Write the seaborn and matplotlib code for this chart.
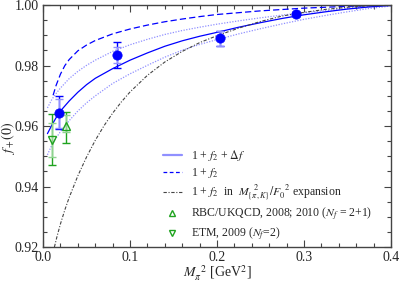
import numpy as np
import matplotlib
matplotlib.use("Agg")
import matplotlib.pyplot as plt
import seaborn as sns
from matplotlib.ticker import MultipleLocator
from matplotlib.lines import Line2D

sns.set_style("ticks")
plt.rcParams["font.family"] = ["Liberation Serif", "DejaVu Serif"]
plt.rcParams["mathtext.fontset"] = "stix"

# curves (x = M_pi^2 in GeV^2)
x_band = [0.005, 0.01, 0.015, 0.02, 0.03, 0.04, 0.05, 0.06, 0.08, 0.10, 0.12, 0.14,
          0.16, 0.18, 0.2, 0.225, 0.25, 0.275, 0.3, 0.325, 0.35, 0.375, 0.4]
f_full = [0.9575, 0.9603, 0.9628, 0.9650, 0.9683, 0.9712, 0.9737, 0.9758, 0.9790,
          0.9818, 0.9842, 0.9864, 0.9882, 0.9897, 0.9910, 0.9927, 0.9942, 0.9956,
          0.9968, 0.9978, 0.9987, 0.9994, 0.9999]
f_full_hi = [0.9660, 0.9688, 0.9708, 0.9726, 0.9757, 0.9781, 0.9801, 0.9818, 0.9847,
             0.9869, 0.9887, 0.9903, 0.9916, 0.9927, 0.9937, 0.9948, 0.9958, 0.9967,
             0.9975, 0.9982, 0.9989, 0.9995, 1.0000]
f_full_lo = [0.9505, 0.9537, 0.9561, 0.9582, 0.9618, 0.9650, 0.9677, 0.9700, 0.9741,
             0.9773, 0.9801, 0.9828, 0.9851, 0.9870, 0.9886, 0.9905, 0.9922, 0.9938,
             0.9953, 0.9966, 0.9978, 0.9989, 0.9997]

x_f2 = [0.0115, 0.015, 0.02, 0.025, 0.03, 0.04, 0.05, 0.06, 0.08, 0.10, 0.12, 0.14,
        0.16, 0.18, 0.2, 0.25, 0.3, 0.35, 0.4]
f_f2 = [0.9702, 0.9735, 0.9772, 0.9800, 0.9820, 0.9849, 0.9868, 0.9883, 0.9905,
        0.9921, 0.9934, 0.9945, 0.9954, 0.9962, 0.9969, 0.9981, 0.9990, 0.9996, 0.9999]

x_exp = [0.013, 0.016, 0.02, 0.025, 0.03, 0.04, 0.05, 0.06, 0.07, 0.08, 0.09, 0.1,
         0.12, 0.14, 0.16, 0.18, 0.2, 0.225, 0.25, 0.275, 0.3, 0.325, 0.35, 0.375, 0.4]
f_exp = [0.9200, 0.9235, 0.9277, 0.9323, 0.9364, 0.9436, 0.9498, 0.9553, 0.9601,
         0.9643, 0.9680, 0.9713, 0.9768, 0.9812, 0.9847, 0.9876, 0.9899, 0.9924,
         0.9946, 0.9964, 0.9976, 0.9986, 0.9993, 0.9998, 1.0003]

# lattice points
x_pts = [0.0183, 0.0848, 0.2035, 0.2906]
f_pts = [0.9643, 0.9835, 0.9891, 0.9971]
pts_lo = [0.9589, 0.9791, 0.9866, 0.9965]
pts_hi = [0.9698, 0.9877, 0.9916, 0.9977]
pts_in_lo = [0.9595, 0.9807, 0.9866, 0.9965]
pts_in_hi = [0.9690, 0.9860, 0.9916, 0.9977]

x_rbc = [0.0268]
f_rbc = [0.9601]
rbc_lo, rbc_hi = [0.9543], [0.9645]
rbc_in_lo, rbc_in_hi = [0.9579], [0.9638]

x_etm = [0.0103]
f_etm = [0.9554]
etm_lo, etm_hi = [0.9471], [0.9639]
etm_in_lo, etm_in_hi = [0.9499], [0.9611]

blue = "#0000ff"
light_blue = "#9090ff"
green = "#1fa31f"
light_green = "#8fd48f"
dark = "#444444"

fig = plt.figure(figsize=(3.99, 2.84), dpi=100)
ax = fig.add_axes([0.108, 0.130, 0.872, 0.852])


def bars(x, y, lo, hi, color, lw=1.0, cap=3.0):
    y = np.array(y)
    err = [y - np.array(lo), np.array(hi) - y]
    ax.errorbar(x, y, yerr=err, fmt="none", ecolor=color, elinewidth=lw,
                capsize=cap, capthick=lw, zorder=3)


sns.lineplot(x=x_band, y=f_full_hi, ax=ax, color=light_blue, lw=0.9,
             linestyle=(0, (1, 1.2)), estimator=None)
sns.lineplot(x=x_band, y=f_full_lo, ax=ax, color=light_blue, lw=0.9,
             linestyle=(0, (1, 1.2)), estimator=None)
sns.lineplot(x=x_band, y=f_full, ax=ax, color=blue, lw=0.9, estimator=None)
sns.lineplot(x=x_f2, y=f_f2, ax=ax, color=blue, lw=0.9,
             linestyle=(0, (5, 2.5)), estimator=None)
sns.lineplot(x=x_exp, y=f_exp, ax=ax, color=dark, lw=0.8,
             linestyle=(0, (3, 1.5, 1, 1.5)), estimator=None)

bars(x_pts, f_pts, pts_lo, pts_hi, blue)
bars(x_pts, f_pts, pts_in_lo, pts_in_hi, light_blue)
sns.scatterplot(x=x_pts, y=f_pts, ax=ax, color=blue, s=45, edgecolor=blue,
                linewidth=0.5, zorder=5)

bars(x_rbc, f_rbc, rbc_lo, rbc_hi, green)
bars(x_rbc, f_rbc, rbc_in_lo, rbc_in_hi, light_green)
ax.plot(x_rbc, f_rbc, linestyle="none", marker="^", ms=6, mfc="none",
        mec=green, mew=1.0, zorder=5)

bars(x_etm, f_etm, etm_lo, etm_hi, green)
bars(x_etm, f_etm, etm_in_lo, etm_in_hi, light_green)
ax.plot(x_etm, f_etm, linestyle="none", marker="v", ms=6, mfc="none",
        mec=green, mew=1.0, zorder=5)

ax.set_xlim(0, 0.4)
ax.set_ylim(0.92, 1.0)
ax.xaxis.set_minor_locator(MultipleLocator(0.02))
ax.yaxis.set_minor_locator(MultipleLocator(0.005))
ax.set_xticks([0, 0.1, 0.2, 0.3, 0.4])
ax.set_xticklabels(["0.0", "0.1", "0.2", "0.3", "0.4"])
ax.set_yticks([0.92, 0.94, 0.96, 0.98, 1.00])
ax.set_yticklabels(["0.92", "0.94", "0.96", "0.98", "1.00"])
ax.tick_params(which="both", direction="in", top=True, right=True,
               labelsize=10, width=0.8, color=dark, pad=3)
ax.tick_params(which="major", length=5)
ax.tick_params(which="minor", length=3)
for sp in ax.spines.values():
    sp.set_linewidth(1.0)
    sp.set_color(dark)

ax.set_xlabel(r"$M_{\pi}^{\ \ 2}$ [GeV$^2$]", fontsize=10)
ax.xaxis.set_label_coords(0.5, -0.07)
ax.set_ylabel(r"$f_+(0)$", fontsize=10)
ax.yaxis.set_label_coords(-0.075, 0.45)

handles = [
    Line2D([], [], color=light_blue, lw=1.6),
    Line2D([], [], color=blue, lw=0.9, linestyle=(0, (3, 2))),
    Line2D([], [], color=dark, lw=0.8, linestyle=(0, (3, 1.5, 1, 1.5))),
    Line2D([], [], linestyle="none", marker="^", ms=5, mfc="none", mec=green),
    Line2D([], [], linestyle="none", marker="v", ms=5, mfc="none", mec=green),
]
labels = [
    r"1 + $f_2$ + $\Delta f$",
    r"1 + $f_2$",
    r"1 + $f_2$  in  $M_{\{\pi,K\}}^{\ \ 2}/F_0^{\ \ 2}$ expansion",
    r"RBC/UKQCD, 2008; 2010 ($N_f$ = 2+1)",
    r"ETM, 2009 ($N_f$=2)",
]
ax.legend(handles, labels, loc="upper left", bbox_to_anchor=(0.33, 0.43),
          frameon=False, fontsize=8.5, handlelength=1.6, handletextpad=0.8,
          labelspacing=0.25, borderaxespad=0)

fig.savefig("out.png", dpi=100)
